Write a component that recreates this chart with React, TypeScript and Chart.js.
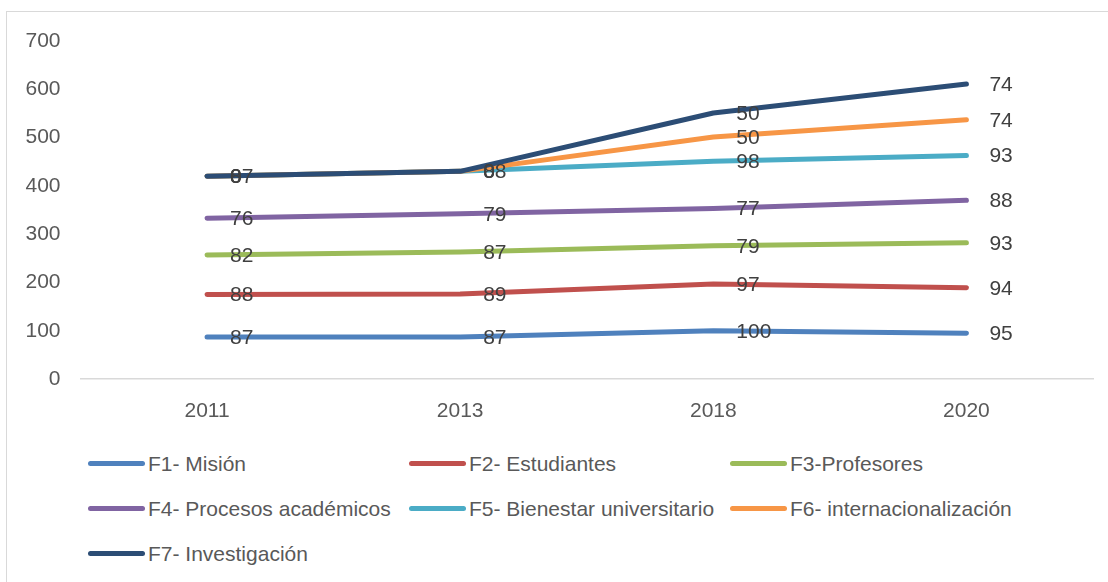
import React, { useEffect, useRef } from "react";
import { Chart, registerables } from "chart.js";

Chart.register(...registerables);

const years = ["2011", "2013", "2018", "2020"];
const seriesNames = [
  "F1- Misión",
  "F2- Estudiantes",
  "F3-Profesores",
  "F4- Procesos académicos",
  "F5- Bienestar universitario",
  "F6- internacionalización",
  "F7- Investigación",
];
const f1 = [87, 87, 100, 95];
const f2 = [88, 89, 97, 94];
const f3 = [82, 87, 79, 93];
const f4 = [76, 79, 77, 88];
const f5 = [87, 88, 98, 93];
const f6 = [0, 0, 50, 74];
const f7 = [0, 0, 50, 74];
const seriesValues = [f1, f2, f3, f4, f5, f6, f7];
const colors = ["#4F81BD", "#C0504D", "#9BBB59", "#8064A2", "#4BACC6", "#F79646", "#2C4D75"];
const yTicks = [0, 100, 200, 300, 400, 500, 600, 700];

const FONT = "'Liberation Sans', Arial, sans-serif";

export default function App() {
  const ref = useRef<HTMLCanvasElement | null>(null);

  useEffect(() => {
    if (!ref.current) return;
    // stacked (cumulative) values
    const cumulative: number[][] = [];
    seriesValues.forEach((vals, i) => {
      cumulative.push(vals.map((v, j) => v + (i > 0 ? cumulative[i - 1][j] : 0)));
    });

    const labelPlugin = {
      id: "valueLabels",
      afterDatasetsDraw(chart: any) {
        const ctx = chart.ctx;
        ctx.save();
        ctx.font = `21px ${FONT}`;
        ctx.fillStyle = "#404040";
        ctx.textAlign = "left";
        ctx.textBaseline = "middle";
        chart.data.datasets.forEach((ds: any, di: number) => {
          const meta = chart.getDatasetMeta(di);
          meta.data.forEach((pt: any, pi: number) => {
            ctx.fillText(String(seriesValues[di][pi]), pt.x + 23, pt.y + 1);
          });
        });
        ctx.restore();
      },
    };

    const chart = new Chart(ref.current, {
      type: "line",
      data: {
        labels: years,
        datasets: cumulative.map((c, i) => ({
          label: seriesNames[i],
          data: c,
          borderColor: colors[i],
          backgroundColor: colors[i],
          borderWidth: 5,
          borderCapStyle: "round",
          borderJoinStyle: "round",
          pointRadius: 0,
          tension: 0,
          fill: false,
          order: seriesValues.length - 1 - i,
        })),
      },
      options: {
        animation: false,
        responsive: false,
        layout: { padding: { top: 41, right: 15, left: 0, bottom: 0 } },
        plugins: { legend: { display: false }, tooltip: { enabled: false } },
        scales: {
          x: {
            offset: true,
            grid: { display: false, drawTicks: false },
            border: { display: true, color: "#d9d9d9", width: 1.5 },
            ticks: { color: "#595959", font: { family: FONT, size: 21 }, padding: 20 },
            afterFit: (s: any) => {
              s.height = 61;
            },
          },
          y: {
            min: 0,
            max: 700,
            afterBuildTicks: (s: any) => {
              s.ticks = yTicks.map((v) => ({ value: v }));
            },
            grid: { display: false, drawTicks: false },
            border: { display: false },
            ticks: { color: "#595959", font: { family: FONT, size: 21 }, padding: 20 },
            afterFit: (s: any) => {
              s.width = 80.5;
            },
          },
        },
      },
      plugins: [labelPlugin],
    } as any);
    return () => chart.destroy();
  }, []);

  return (
    <div
      style={{
        position: "fixed",
        left: 0,
        top: 0,
        width: 1108,
        height: 582,
        background: "#ffffff",
        overflow: "hidden",
        fontFamily: FONT,
      }}
    >
      <div
        style={{
          position: "absolute",
          left: 6,
          top: 11,
          width: 1110,
          height: 580,
          borderTop: "1.5px solid #d9d9d9",
          borderLeft: "1.5px solid #d9d9d9",
        }}
      />
      <canvas ref={ref} width={1108} height={440} style={{ position: "absolute", left: 0, top: 0 }} />
      <div
        style={{
          position: "absolute",
          left: 88,
          top: 441,
          display: "grid",
          gridTemplateColumns: "321px 321px 321px",
          gridAutoRows: "45px",
        }}
      >
        {seriesNames.map((n, i) => (
          <div key={n} style={{ display: "flex", alignItems: "center", height: 45 }}>
            <span
              style={{
                display: "inline-block",
                width: 57,
                height: 4.5,
                borderRadius: 3,
                background: colors[i],
                marginRight: 3,
              }}
            />
            <span style={{ fontSize: 21, color: "#595959", whiteSpace: "nowrap" }}>{n}</span>
          </div>
        ))}
      </div>
    </div>
  );
}
